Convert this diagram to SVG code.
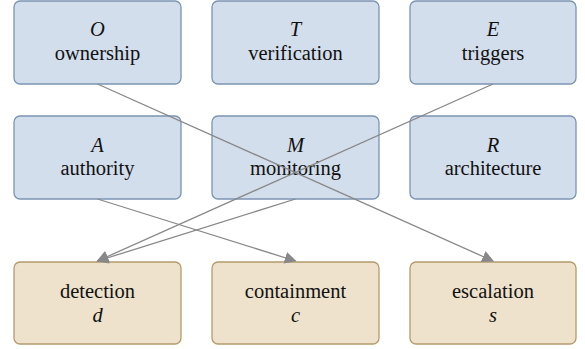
<svg xmlns="http://www.w3.org/2000/svg" width="585" height="349" viewBox="0 0 585 349">
<style>
.b{fill:#d3deec;stroke:#7b94b2;stroke-width:1.3}
.y{fill:#eee2cc;stroke:#b49b6b;stroke-width:1.3}
text{font-family:'Liberation Serif','Times New Roman',serif;font-size:20.5px;fill:#111;text-anchor:middle}
.m{font-style:italic}
.e{stroke:#888;stroke-width:1.3;fill:none;marker-end:url(#ah)}
</style>
<defs>
<marker id="ah" viewBox="0 0 10 10" refX="9" refY="5" markerWidth="12" markerHeight="12" markerUnits="userSpaceOnUse" orient="auto">
<path d="M0,0 L10,5 L0,10 z" fill="#888"/>
</marker>
</defs>
<g id="O"><rect class="b" x="14" y="1" width="167" height="83" rx="6"/><text class="m" x="97.5" y="36">O</text><text x="97.5" y="60">ownership</text></g>
<g id="T"><rect class="b" x="212" y="1" width="167" height="83" rx="6"/><text class="m" x="295.5" y="36">T</text><text x="295.5" y="60">verification</text></g>
<g id="E"><rect class="b" x="410" y="1" width="166" height="83" rx="6"/><text class="m" x="493" y="36">E</text><text x="493" y="60">triggers</text></g>
<g id="A"><rect class="b" x="14" y="116" width="167" height="83" rx="6"/><text class="m" x="97.5" y="152">A</text><text x="97.5" y="175">authority</text></g>
<g id="M"><rect class="b" x="212" y="116" width="167" height="83" rx="6"/><text class="m" x="295.5" y="152">M</text><text x="295.5" y="175">monitoring</text></g>
<g id="R"><rect class="b" x="410" y="116" width="166" height="83" rx="6"/><text class="m" x="493" y="152">R</text><text x="493" y="175">architecture</text></g>
<g id="d"><rect class="y" x="14" y="262" width="167" height="82" rx="6"/><text x="97.5" y="298">detection</text><text class="m" x="97.5" y="322">d</text></g>
<g id="c"><rect class="y" x="212" y="262" width="167" height="82" rx="6"/><text x="295.5" y="298">containment</text><text class="m" x="295.5" y="322">c</text></g>
<g id="s"><rect class="y" x="410" y="262" width="166" height="82" rx="6"/><text x="493" y="298">escalation</text><text class="m" x="493" y="322">s</text></g>
<g id="edges">
<line class="e" x1="97.5" y1="84" x2="493" y2="261"/>
<line class="e" x1="493" y1="84" x2="97.5" y2="261"/>
<line class="e" x1="97.5" y1="199" x2="295.5" y2="261"/>
<line class="e" x1="295.5" y1="199" x2="97.5" y2="261"/>
</g>
</svg>
